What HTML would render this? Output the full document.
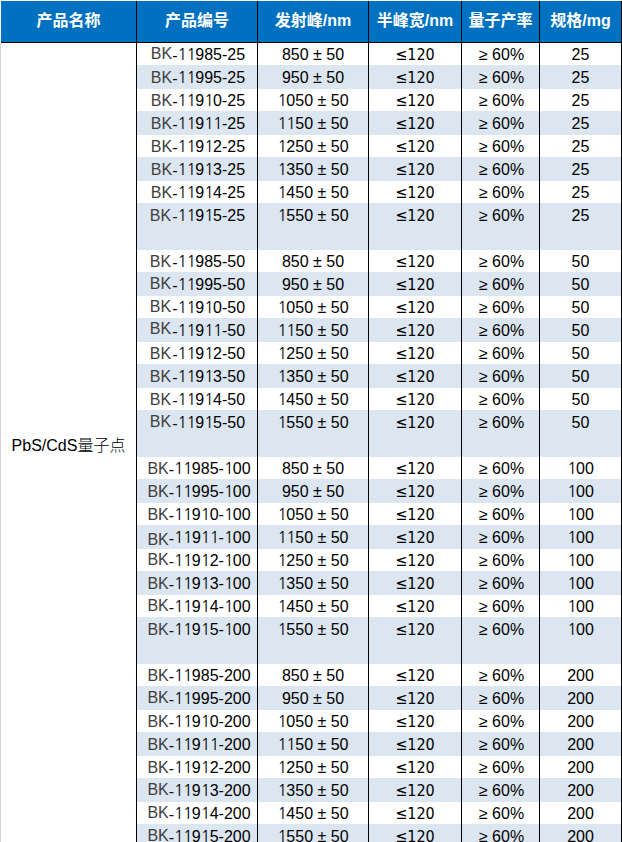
<!DOCTYPE html>
<html><head><meta charset="utf-8"><style>
html,body{margin:0;padding:0;background:#fff;}
body{font-kerning:none;}
body{width:622px;height:842px;overflow:hidden;position:relative;}
.a{position:absolute;}
.ln{position:absolute;background:#000;}
.hd{position:absolute;top:0px;height:41px;line-height:41px;text-align:center;color:#fff;font-weight:bold;font-size:16px;
 font-family:"Liberation Sans","Noto Sans CJK SC",sans-serif;white-space:nowrap;}
.c{position:absolute;height:23px;line-height:23px;text-align:center;color:#000;font-size:16px;
 font-family:"Liberation Sans","Noto Sans CJK SC",sans-serif;white-space:nowrap;}
.bk{color:#404040;position:relative;}
.hy{position:relative;top:1px;}
.c2{letter-spacing:0px;}
.sf{font-family:'DejaVu Sans Condensed','DejaVu Sans',sans-serif;font-stretch:condensed;font-size:16px;}
.lt{font-weight:300;}
.o{display:inline-block;width:8.898px;text-align:center;font-family:NanumGothic,'Liberation Sans',sans-serif;}
.st{position:absolute;left:137px;width:484px;background:#dce6f1;}
</style></head><body>

<div class="a" style="left:0;top:43px;width:1px;height:799px;background:#d4d4d4"></div>
<div class="a" style="left:1px;top:1px;width:620px;height:41px;background:#0070c0"></div>
<div class="st" style="top:65px;height:24px"></div>
<div class="st" style="top:111px;height:24px"></div>
<div class="st" style="top:157px;height:24px"></div>
<div class="st" style="top:203px;height:47px"></div>
<div class="st" style="top:272px;height:24px"></div>
<div class="st" style="top:318px;height:24px"></div>
<div class="st" style="top:364px;height:24px"></div>
<div class="st" style="top:410px;height:47px"></div>
<div class="st" style="top:479px;height:24px"></div>
<div class="st" style="top:525px;height:24px"></div>
<div class="st" style="top:571px;height:24px"></div>
<div class="st" style="top:617px;height:47px"></div>
<div class="st" style="top:686px;height:24px"></div>
<div class="st" style="top:732px;height:24px"></div>
<div class="st" style="top:778px;height:24px"></div>
<div class="st" style="top:824px;height:47px"></div>
<div class="hd" style="left:1px;width:135px">产品名称</div>
<div class="hd" style="left:137px;width:120px">产品编号</div>
<div class="hd" style="left:258px;width:110px">发射峰/nm</div>
<div class="hd" style="left:369px;width:92px">半峰宽/nm</div>
<div class="hd" style="left:462px;width:77px">量子产率</div>
<div class="hd" style="left:540px;width:81px">规格/mg</div>
<div class="c c2" style="left:138px;top:43px;width:120px"><span class="bk" style="top:-1px">BK</span><span class="hy">-</span><span class="o">1</span><span class="o">1</span>985-25</div>
<div class="c" style="left:258px;top:43px;width:110px">850 ± 50</div>
<div class="c" style="left:369px;top:43px;width:92px"><span class="sf">≤120</span></div>
<div class="c" style="left:463px;top:43px;width:77px">≥ 60%</div>
<div class="c" style="left:540px;top:43px;width:81px">25</div>
<div class="c c2" style="left:138px;top:66px;width:120px"><span class="bk">BK</span><span class="hy">-</span><span class="o">1</span><span class="o">1</span>995-25</div>
<div class="c" style="left:258px;top:66px;width:110px">950 ± 50</div>
<div class="c" style="left:369px;top:66px;width:92px"><span class="sf">≤120</span></div>
<div class="c" style="left:463px;top:66px;width:77px">≥ 60%</div>
<div class="c" style="left:540px;top:66px;width:81px">25</div>
<div class="c c2" style="left:138px;top:89px;width:120px"><span class="bk">BK</span><span class="hy">-</span><span class="o">1</span><span class="o">1</span>9<span class="o">1</span>0-25</div>
<div class="c" style="left:258px;top:89px;width:110px"><span class="o">1</span>050 ± 50</div>
<div class="c" style="left:369px;top:89px;width:92px"><span class="sf">≤120</span></div>
<div class="c" style="left:463px;top:89px;width:77px">≥ 60%</div>
<div class="c" style="left:540px;top:89px;width:81px">25</div>
<div class="c c2" style="left:138px;top:112px;width:120px"><span class="bk">BK</span><span class="hy">-</span><span class="o">1</span><span class="o">1</span>9<span class="o">1</span><span class="o">1</span>-25</div>
<div class="c" style="left:258px;top:112px;width:110px"><span class="o">1</span><span class="o">1</span>50 ± 50</div>
<div class="c" style="left:369px;top:112px;width:92px"><span class="sf">≤120</span></div>
<div class="c" style="left:463px;top:112px;width:77px">≥ 60%</div>
<div class="c" style="left:540px;top:112px;width:81px">25</div>
<div class="c c2" style="left:138px;top:135px;width:120px"><span class="bk">BK</span><span class="hy">-</span><span class="o">1</span><span class="o">1</span>9<span class="o">1</span>2-25</div>
<div class="c" style="left:258px;top:135px;width:110px"><span class="o">1</span>250 ± 50</div>
<div class="c" style="left:369px;top:135px;width:92px"><span class="sf">≤120</span></div>
<div class="c" style="left:463px;top:135px;width:77px">≥ 60%</div>
<div class="c" style="left:540px;top:135px;width:81px">25</div>
<div class="c c2" style="left:138px;top:158px;width:120px"><span class="bk">BK</span><span class="hy">-</span><span class="o">1</span><span class="o">1</span>9<span class="o">1</span>3-25</div>
<div class="c" style="left:258px;top:158px;width:110px"><span class="o">1</span>350 ± 50</div>
<div class="c" style="left:369px;top:158px;width:92px"><span class="sf">≤120</span></div>
<div class="c" style="left:463px;top:158px;width:77px">≥ 60%</div>
<div class="c" style="left:540px;top:158px;width:81px">25</div>
<div class="c c2" style="left:138px;top:181px;width:120px"><span class="bk">BK</span><span class="hy">-</span><span class="o">1</span><span class="o">1</span>9<span class="o">1</span>4-25</div>
<div class="c" style="left:258px;top:181px;width:110px"><span class="o">1</span>450 ± 50</div>
<div class="c" style="left:369px;top:181px;width:92px"><span class="sf">≤120</span></div>
<div class="c" style="left:463px;top:181px;width:77px">≥ 60%</div>
<div class="c" style="left:540px;top:181px;width:81px">25</div>
<div class="c c2" style="left:138px;top:204px;width:120px"><span class="bk" style="left:-1px">BK</span><span class="hy">-</span><span class="o">1</span><span class="o">1</span>9<span class="o">1</span>5-25</div>
<div class="c" style="left:258px;top:204px;width:110px"><span class="o">1</span>550 ± 50</div>
<div class="c" style="left:369px;top:204px;width:92px"><span class="sf">≤120</span></div>
<div class="c" style="left:463px;top:204px;width:77px">≥ 60%</div>
<div class="c" style="left:540px;top:204px;width:81px">25</div>
<div class="c c2" style="left:138px;top:250px;width:120px"><span class="bk" style="left:-1px">BK</span><span class="hy">-</span><span class="o">1</span><span class="o">1</span>985-50</div>
<div class="c" style="left:258px;top:250px;width:110px">850 ± 50</div>
<div class="c" style="left:369px;top:250px;width:92px"><span class="sf">≤120</span></div>
<div class="c" style="left:463px;top:250px;width:77px">≥ 60%</div>
<div class="c" style="left:540px;top:250px;width:81px">50</div>
<div class="c c2" style="left:138px;top:273px;width:120px"><span class="bk" style="top:-1px;left:-1px">BK</span><span class="hy">-</span><span class="o">1</span><span class="o">1</span>995-50</div>
<div class="c" style="left:258px;top:273px;width:110px">950 ± 50</div>
<div class="c" style="left:369px;top:273px;width:92px"><span class="sf">≤120</span></div>
<div class="c" style="left:463px;top:273px;width:77px">≥ 60%</div>
<div class="c" style="left:540px;top:273px;width:81px">50</div>
<div class="c c2" style="left:138px;top:296px;width:120px"><span class="bk" style="top:-1px;left:-1px">BK</span><span class="hy">-</span><span class="o">1</span><span class="o">1</span>9<span class="o">1</span>0-50</div>
<div class="c" style="left:258px;top:296px;width:110px"><span class="o">1</span>050 ± 50</div>
<div class="c" style="left:369px;top:296px;width:92px"><span class="sf">≤120</span></div>
<div class="c" style="left:463px;top:296px;width:77px">≥ 60%</div>
<div class="c" style="left:540px;top:296px;width:81px">50</div>
<div class="c c2" style="left:138px;top:319px;width:120px"><span class="bk" style="top:-2px;left:-1px">BK</span><span class="hy">-</span><span class="o">1</span><span class="o">1</span>9<span class="o">1</span><span class="o">1</span>-50</div>
<div class="c" style="left:258px;top:319px;width:110px"><span class="o">1</span><span class="o">1</span>50 ± 50</div>
<div class="c" style="left:369px;top:319px;width:92px"><span class="sf">≤120</span></div>
<div class="c" style="left:463px;top:319px;width:77px">≥ 60%</div>
<div class="c" style="left:540px;top:319px;width:81px">50</div>
<div class="c c2" style="left:138px;top:342px;width:120px"><span class="bk" style="left:-1px">BK</span><span class="hy">-</span><span class="o">1</span><span class="o">1</span>9<span class="o">1</span>2-50</div>
<div class="c" style="left:258px;top:342px;width:110px"><span class="o">1</span>250 ± 50</div>
<div class="c" style="left:369px;top:342px;width:92px"><span class="sf">≤120</span></div>
<div class="c" style="left:463px;top:342px;width:77px">≥ 60%</div>
<div class="c" style="left:540px;top:342px;width:81px">50</div>
<div class="c c2" style="left:138px;top:365px;width:120px"><span class="bk" style="left:-1px">BK</span><span class="hy">-</span><span class="o">1</span><span class="o">1</span>9<span class="o">1</span>3-50</div>
<div class="c" style="left:258px;top:365px;width:110px"><span class="o">1</span>350 ± 50</div>
<div class="c" style="left:369px;top:365px;width:92px"><span class="sf">≤120</span></div>
<div class="c" style="left:463px;top:365px;width:77px">≥ 60%</div>
<div class="c" style="left:540px;top:365px;width:81px">50</div>
<div class="c c2" style="left:138px;top:388px;width:120px"><span class="bk" style="left:-1px">BK</span><span class="hy">-</span><span class="o">1</span><span class="o">1</span>9<span class="o">1</span>4-50</div>
<div class="c" style="left:258px;top:388px;width:110px"><span class="o">1</span>450 ± 50</div>
<div class="c" style="left:369px;top:388px;width:92px"><span class="sf">≤120</span></div>
<div class="c" style="left:463px;top:388px;width:77px">≥ 60%</div>
<div class="c" style="left:540px;top:388px;width:81px">50</div>
<div class="c c2" style="left:138px;top:411px;width:120px"><span class="bk" style="top:-1px;left:-1px">BK</span><span class="hy">-</span><span class="o">1</span><span class="o">1</span>9<span class="o">1</span>5-50</div>
<div class="c" style="left:258px;top:411px;width:110px"><span class="o">1</span>550 ± 50</div>
<div class="c" style="left:369px;top:411px;width:92px"><span class="sf">≤120</span></div>
<div class="c" style="left:463px;top:411px;width:77px">≥ 60%</div>
<div class="c" style="left:540px;top:411px;width:81px">50</div>
<div class="c c2" style="left:139px;top:457px;width:120px"><span class="bk">BK</span><span class="hy">-</span><span class="o">1</span><span class="o">1</span>985-<span class="o">1</span>00</div>
<div class="c" style="left:258px;top:457px;width:110px">850 ± 50</div>
<div class="c" style="left:369px;top:457px;width:92px"><span class="sf">≤120</span></div>
<div class="c" style="left:463px;top:457px;width:77px">≥ 60%</div>
<div class="c" style="left:540px;top:457px;width:81px"><span class="o">1</span>00</div>
<div class="c c2" style="left:139px;top:480px;width:120px"><span class="bk">BK</span><span class="hy">-</span><span class="o">1</span><span class="o">1</span>995-<span class="o">1</span>00</div>
<div class="c" style="left:258px;top:480px;width:110px">950 ± 50</div>
<div class="c" style="left:369px;top:480px;width:92px"><span class="sf">≤120</span></div>
<div class="c" style="left:463px;top:480px;width:77px">≥ 60%</div>
<div class="c" style="left:540px;top:480px;width:81px"><span class="o">1</span>00</div>
<div class="c c2" style="left:139px;top:503px;width:120px"><span class="bk">BK</span><span class="hy">-</span><span class="o">1</span><span class="o">1</span>9<span class="o">1</span>0-<span class="o">1</span>00</div>
<div class="c" style="left:258px;top:503px;width:110px"><span class="o">1</span>050 ± 50</div>
<div class="c" style="left:369px;top:503px;width:92px"><span class="sf">≤120</span></div>
<div class="c" style="left:463px;top:503px;width:77px">≥ 60%</div>
<div class="c" style="left:540px;top:503px;width:81px"><span class="o">1</span>00</div>
<div class="c c2" style="left:139px;top:526px;width:120px"><span class="bk" style="top:2px">BK</span><span class="hy">-</span><span class="o">1</span><span class="o">1</span>9<span class="o">1</span><span class="o">1</span>-<span class="o">1</span>00</div>
<div class="c" style="left:258px;top:526px;width:110px"><span class="o">1</span><span class="o">1</span>50 ± 50</div>
<div class="c" style="left:369px;top:526px;width:92px"><span class="sf">≤120</span></div>
<div class="c" style="left:463px;top:526px;width:77px">≥ 60%</div>
<div class="c" style="left:540px;top:526px;width:81px"><span class="o">1</span>00</div>
<div class="c c2" style="left:139px;top:549px;width:120px"><span class="bk" style="top:-1px">BK</span><span class="hy">-</span><span class="o">1</span><span class="o">1</span>9<span class="o">1</span>2-<span class="o">1</span>00</div>
<div class="c" style="left:258px;top:549px;width:110px"><span class="o">1</span>250 ± 50</div>
<div class="c" style="left:369px;top:549px;width:92px"><span class="sf">≤120</span></div>
<div class="c" style="left:463px;top:549px;width:77px">≥ 60%</div>
<div class="c" style="left:540px;top:549px;width:81px"><span class="o">1</span>00</div>
<div class="c c2" style="left:139px;top:572px;width:120px"><span class="bk">BK</span><span class="hy">-</span><span class="o">1</span><span class="o">1</span>9<span class="o">1</span>3-<span class="o">1</span>00</div>
<div class="c" style="left:258px;top:572px;width:110px"><span class="o">1</span>350 ± 50</div>
<div class="c" style="left:369px;top:572px;width:92px"><span class="sf">≤120</span></div>
<div class="c" style="left:463px;top:572px;width:77px">≥ 60%</div>
<div class="c" style="left:540px;top:572px;width:81px"><span class="o">1</span>00</div>
<div class="c c2" style="left:139px;top:595px;width:120px"><span class="bk" style="top:-1px">BK</span><span class="hy">-</span><span class="o">1</span><span class="o">1</span>9<span class="o">1</span>4-<span class="o">1</span>00</div>
<div class="c" style="left:258px;top:595px;width:110px"><span class="o">1</span>450 ± 50</div>
<div class="c" style="left:369px;top:595px;width:92px"><span class="sf">≤120</span></div>
<div class="c" style="left:463px;top:595px;width:77px">≥ 60%</div>
<div class="c" style="left:540px;top:595px;width:81px"><span class="o">1</span>00</div>
<div class="c c2" style="left:139px;top:618px;width:120px"><span class="bk">BK</span><span class="hy">-</span><span class="o">1</span><span class="o">1</span>9<span class="o">1</span>5-<span class="o">1</span>00</div>
<div class="c" style="left:258px;top:618px;width:110px"><span class="o">1</span>550 ± 50</div>
<div class="c" style="left:369px;top:618px;width:92px"><span class="sf">≤120</span></div>
<div class="c" style="left:463px;top:618px;width:77px">≥ 60%</div>
<div class="c" style="left:540px;top:618px;width:81px"><span class="o">1</span>00</div>
<div class="c c2" style="left:139px;top:664px;width:120px"><span class="bk">BK</span><span class="hy">-</span><span class="o">1</span><span class="o">1</span>985-200</div>
<div class="c" style="left:258px;top:664px;width:110px">850 ± 50</div>
<div class="c" style="left:369px;top:664px;width:92px"><span class="sf">≤120</span></div>
<div class="c" style="left:463px;top:664px;width:77px">≥ 60%</div>
<div class="c" style="left:540px;top:664px;width:81px">200</div>
<div class="c c2" style="left:139px;top:687px;width:120px"><span class="bk" style="top:-1px">BK</span><span class="hy">-</span><span class="o">1</span><span class="o">1</span>995-200</div>
<div class="c" style="left:258px;top:687px;width:110px">950 ± 50</div>
<div class="c" style="left:369px;top:687px;width:92px"><span class="sf">≤120</span></div>
<div class="c" style="left:463px;top:687px;width:77px">≥ 60%</div>
<div class="c" style="left:540px;top:687px;width:81px">200</div>
<div class="c c2" style="left:139px;top:710px;width:120px"><span class="bk">BK</span><span class="hy">-</span><span class="o">1</span><span class="o">1</span>9<span class="o">1</span>0-200</div>
<div class="c" style="left:258px;top:710px;width:110px"><span class="o">1</span>050 ± 50</div>
<div class="c" style="left:369px;top:710px;width:92px"><span class="sf">≤120</span></div>
<div class="c" style="left:463px;top:710px;width:77px">≥ 60%</div>
<div class="c" style="left:540px;top:710px;width:81px">200</div>
<div class="c c2" style="left:139px;top:733px;width:120px"><span class="bk">BK</span><span class="hy">-</span><span class="o">1</span><span class="o">1</span>9<span class="o">1</span><span class="o">1</span>-200</div>
<div class="c" style="left:258px;top:733px;width:110px"><span class="o">1</span><span class="o">1</span>50 ± 50</div>
<div class="c" style="left:369px;top:733px;width:92px"><span class="sf">≤120</span></div>
<div class="c" style="left:463px;top:733px;width:77px">≥ 60%</div>
<div class="c" style="left:540px;top:733px;width:81px">200</div>
<div class="c c2" style="left:139px;top:756px;width:120px"><span class="bk">BK</span><span class="hy">-</span><span class="o">1</span><span class="o">1</span>9<span class="o">1</span>2-200</div>
<div class="c" style="left:258px;top:756px;width:110px"><span class="o">1</span>250 ± 50</div>
<div class="c" style="left:369px;top:756px;width:92px"><span class="sf">≤120</span></div>
<div class="c" style="left:463px;top:756px;width:77px">≥ 60%</div>
<div class="c" style="left:540px;top:756px;width:81px">200</div>
<div class="c c2" style="left:139px;top:779px;width:120px"><span class="bk" style="top:-1px">BK</span><span class="hy">-</span><span class="o">1</span><span class="o">1</span>9<span class="o">1</span>3-200</div>
<div class="c" style="left:258px;top:779px;width:110px"><span class="o">1</span>350 ± 50</div>
<div class="c" style="left:369px;top:779px;width:92px"><span class="sf">≤120</span></div>
<div class="c" style="left:463px;top:779px;width:77px">≥ 60%</div>
<div class="c" style="left:540px;top:779px;width:81px">200</div>
<div class="c c2" style="left:139px;top:802px;width:120px"><span class="bk" style="top:-1px">BK</span><span class="hy">-</span><span class="o">1</span><span class="o">1</span>9<span class="o">1</span>4-200</div>
<div class="c" style="left:258px;top:802px;width:110px"><span class="o">1</span>450 ± 50</div>
<div class="c" style="left:369px;top:802px;width:92px"><span class="sf">≤120</span></div>
<div class="c" style="left:463px;top:802px;width:77px">≥ 60%</div>
<div class="c" style="left:540px;top:802px;width:81px">200</div>
<div class="c c2" style="left:139px;top:825px;width:120px"><span class="bk" style="top:-1px">BK</span><span class="hy">-</span><span class="o">1</span><span class="o">1</span>9<span class="o">1</span>5-200</div>
<div class="c" style="left:258px;top:825px;width:110px"><span class="o">1</span>550 ± 50</div>
<div class="c" style="left:369px;top:825px;width:92px"><span class="sf">≤120</span></div>
<div class="c" style="left:463px;top:825px;width:77px">≥ 60%</div>
<div class="c" style="left:540px;top:825px;width:81px">200</div>
<div class="c" style="left:1px;top:434px;width:135px">PbS/CdS<span class="lt">量子点</span></div>
<div class="ln" style="left:1px;top:42px;width:621px;height:1px"></div>
<div class="ln" style="left:136px;top:1px;width:1px;height:841px"></div>
<div class="ln" style="left:257px;top:1px;width:1px;height:841px"></div>
<div class="ln" style="left:368px;top:1px;width:1px;height:841px"></div>
<div class="ln" style="left:461px;top:1px;width:1px;height:841px"></div>
<div class="ln" style="left:539px;top:1px;width:1px;height:841px"></div>
<div class="ln" style="left:621px;top:1px;width:1px;height:841px"></div>
</body></html>
